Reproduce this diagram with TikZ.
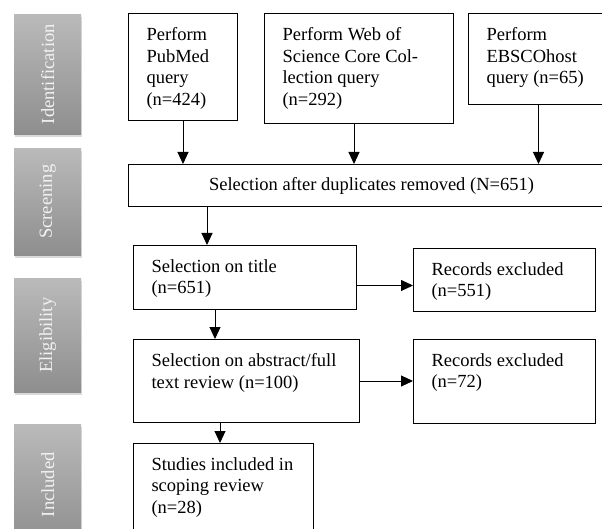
\documentclass[tikz,border=0pt]{standalone}
\usepackage{fontspec}
\setmainfont{Liberation Serif}
\usetikzlibrary{arrows.meta,shadows}
\definecolor{bartop}{HTML}{BABABA}
\definecolor{barbottom}{HTML}{8E8E8E}
\newcommand{\boxtext}[3]{\parbox[c][#2][t]{\dimexpr#1-36pt\relax}{\vspace*{14pt}\raggedright #3}}
\begin{document}
\begin{tikzpicture}[x=1pt,y=-1pt,>={Triangle[length=12pt,width=11pt]},
  every node/.style={font=\fontsize{18.5pt}{21.5pt}\selectfont},
  box/.style={draw,line width=1pt,anchor=north west,inner xsep=18pt,inner ysep=0pt},
  phase/.style={anchor=north west,minimum width=67pt,inner sep=0pt,top color=bartop,bottom color=barbottom,text=white!95!black,
    drop shadow={shadow xshift=1pt,shadow yshift=-3pt,opacity=.3}}]
\useasboundingbox (0,0) rectangle (602,529);
\clip (0,0) rectangle (602,529);

\node[phase,minimum height=120pt] (ident) at (14,14) {\rotatebox{90}{Identification}};
\node[phase,minimum height=107pt] (screen) at (14,148) {\rotatebox{90}{Screening}};
\node[phase,minimum height=114pt] (elig) at (14,278) {\rotatebox{90}{Eligibility}};
\node[phase,minimum height=121pt] (incl) at (14,424) {\rotatebox{90}{Included}};

\node[box] (pubmed) at (128,13) {\boxtext{109pt}{107pt}{Perform\\PubMed\\query\\(n=424)}};
\node[box] (wos) at (264,13) {\boxtext{189pt}{110pt}{Perform Web of\\Science Core Col-\\lection query\\(n=292)}};
\node[box] (ebsco) at (468,13) {\boxtext{140pt}{91pt}{Perform\\EBSCOhost\\query (n=65)}};

\node[box,inner xsep=0pt,minimum width=486pt,minimum height=42pt] (sel) at (128,164) {Selection after duplicates removed (N=651)};

\node[box] (title) at (133,245) {\boxtext{223pt}{64pt}{Selection on title\\(n=651)}};
\node[box] (abstract) at (133,339) {\boxtext{226pt}{83pt}{Selection on abstract/full\\text review (n=100)}};
\node[box] (studies) at (133,443) {\boxtext{180pt}{100pt}{Studies included in\\scoping review\\(n=28)}};

\node[box] (excl1) at (413,248) {\boxtext{182pt}{63pt}{Records excluded\\(n=551)}};
\node[box] (excl2) at (413,339) {\boxtext{182pt}{84pt}{Records excluded\\(n=72)}};

\path[->,line width=1pt] (pubmed) edge (pubmed |- sel.north);
\path[->,line width=1pt] ([xshift=-5pt]wos.south) edge ([xshift=-5pt]wos.south |- sel.north);
\path[->,line width=1pt] (ebsco) edge (ebsco |- sel.north);
\path[->,line width=1pt] ([xshift=74pt]title.north west |- sel.south) edge ([xshift=74pt]title.north west);
\path[->,line width=1pt] ([xshift=82pt]title.south west) edge ([xshift=82pt]title.south west |- abstract.north);
\path[->,line width=1pt] ([xshift=87pt]abstract.south west) edge ([xshift=87pt]abstract.south west |- studies.north);
\path[->,line width=1pt] ([yshift=-8pt]title.east) edge ([yshift=-8pt]title.east -| excl1.west);
\path[->,line width=1pt] (abstract) edge (abstract -| excl2.west);
\end{tikzpicture}
\end{document}
